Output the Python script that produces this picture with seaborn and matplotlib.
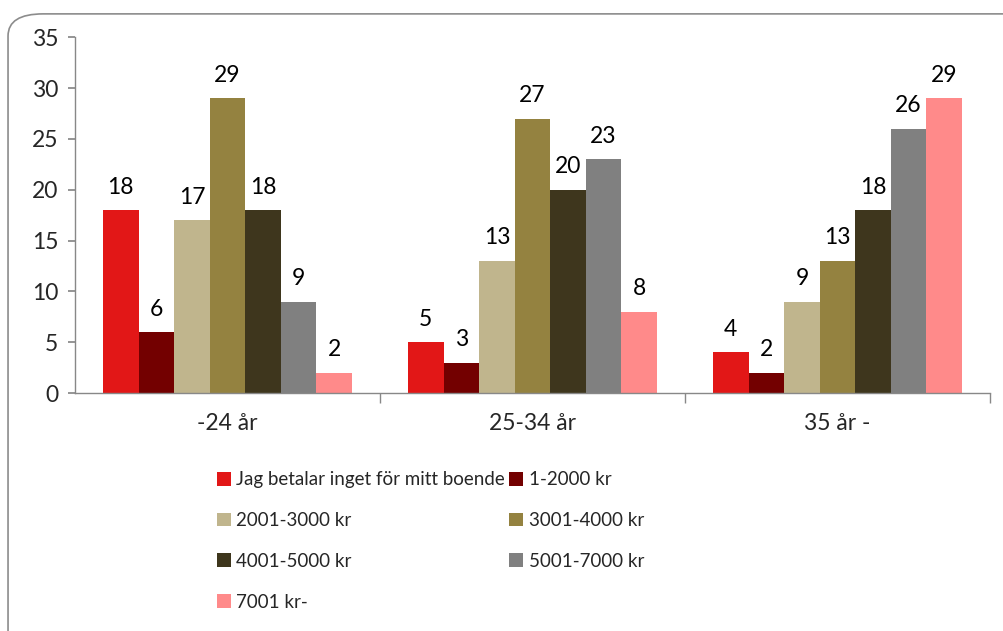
import matplotlib
matplotlib.use("Agg")
import matplotlib.pyplot as plt
import seaborn as sns
import pandas as pd
import numpy as np
from matplotlib.patches import FancyBboxPatch, Patch

groups = ["-24 år", "25-34 år", "35 år -"]
series = ["Jag betalar inget för mitt boende", "1-2000 kr", "2001-3000 kr",
          "3001-4000 kr", "4001-5000 kr", "5001-7000 kr", "7001 kr-"]
v_24 = [18, 6, 17, 29, 18, 9, 2]
v_25_34 = [5, 3, 13, 27, 20, 23, 8]
v_35 = [4, 2, 9, 13, 18, 26, 29]
colors = ["#E21717", "#730000", "#C0B58D", "#948240", "#3E361D", "#808080", "#FF8A8A"]

rows = []
for g, vals in zip(groups, [v_24, v_25_34, v_35]):
    for s, v in zip(series, vals):
        rows.append({"group": g, "series": s, "value": v})
df = pd.DataFrame(rows)

sns.set_theme(style="white")
plt.rcParams['font.family'] = ['Lato', 'DejaVu Sans']

fig = plt.figure(figsize=(10.04, 6.31), dpi=100)
ax = fig.add_axes([0.0747, 0.377, 0.9113, 0.564])

sns.barplot(data=df, x="group", y="value", hue="series", hue_order=series,
            order=groups, palette=colors, width=0.816, ax=ax, legend=False,
            saturation=1, linewidth=0, edgecolor="none")

for cont in ax.containers:
    ax.bar_label(cont, labels=[f"{int(v)}" for v in cont.datavalues],
                 padding=9, fontsize=16.5, color="black")

ax.set_ylim(0, 35)
ax.set_xlim(-0.5, 2.5)
ax.set_yticks(range(0, 36, 5))
ax.tick_params(axis="y", labelsize=16.5, length=5, direction="out", color="#888888", left=True, pad=7)
ax.set_xticks(range(3))
ax.set_xticklabels(groups, fontsize=16.5)
ax.tick_params(axis="x", length=0, pad=14)
ax.set_xticks([0.5, 1.5, 2.5], minor=True)
ax.tick_params(axis="x", which="minor", length=7, direction="out", color="#888888", bottom=True)
ax.set_xlabel("")
ax.set_ylabel("")
for side in ["top", "right"]:
    ax.spines[side].set_visible(False)
for side in ["left", "bottom"]:
    ax.spines[side].set_color("#888888")
    ax.spines[side].set_linewidth(1.0)

handles = [Patch(facecolor=c, edgecolor="none") for c in colors]
order = [0, 2, 4, 6, 1, 3, 5]
leg = fig.legend([handles[i] for i in order], [series[i] for i in order],
                 ncol=2, loc="upper left", bbox_to_anchor=(0.199, 0.28),
                 frameon=False, fontsize=13.5, handlelength=0.75, handleheight=0.75,
                 handletextpad=0.3, labelspacing=1.27, columnspacing=0.2)

border = FancyBboxPatch((0.008, -0.05), 1.1, 1.028,
                        boxstyle="round,pad=0,rounding_size=0.035",
                        transform=fig.transFigure, facecolor="none",
                        edgecolor="#8c8c8c", linewidth=1.2, clip_on=False)
fig.patches.append(border)

fig.savefig("out.png", dpi=100)
